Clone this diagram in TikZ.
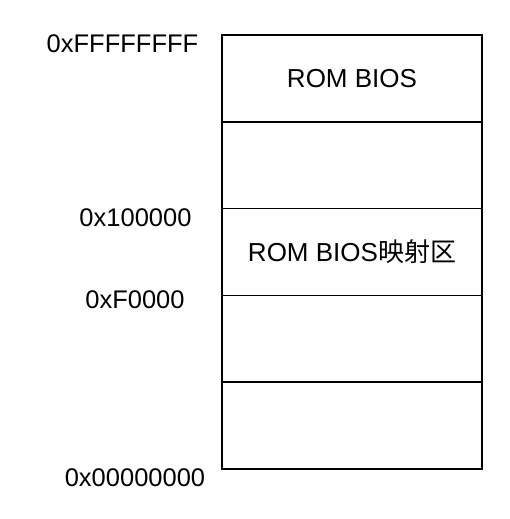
\documentclass[tikz,border=0pt]{standalone}
\usepackage{fontspec}
\setmainfont{Liberation Sans}
\newfontfamily\cjkfont{Noto Sans CJK SC}
\usetikzlibrary{positioning}

\tikzset{
  memrow/.style = {draw, line width=1.5pt, minimum width=260pt, minimum height=86.8pt,
    inner sep=0pt, outer sep=0pt, font=\fontsize{26}{31}\selectfont},
  addr/.style = {inner sep=0pt, font=\fontsize{25.5}{30}\selectfont},
}

\begin{document}
\begin{tikzpicture}[x=1pt, y=-1pt]
  \useasboundingbox (0,0) rectangle (510,519);

  % memory rows, top to bottom
  \node[memrow] (rom) at (352,78.4) {ROM BIOS};
  \node[memrow, below=0pt of rom] (hole) {};
  \node[memrow, below=0pt of hole] (shadow) {ROM BIOS{\cjkfont 映射区}};
  \node[memrow, below=0pt of shadow] (upper) {};
  \node[memrow, below=0pt of upper] (lower) {};

  % addresses
  \node[addr] (top) at (122.5,44) {0xFFFFFFFF};
  \node[addr] (mb) at (135.5,217.5) {0x100000};
  \node[addr] (bios) at (135,300) {0xF0000};
  \node[addr] (zero) at (135,478) {0x00000000};
\end{tikzpicture}
\end{document}
